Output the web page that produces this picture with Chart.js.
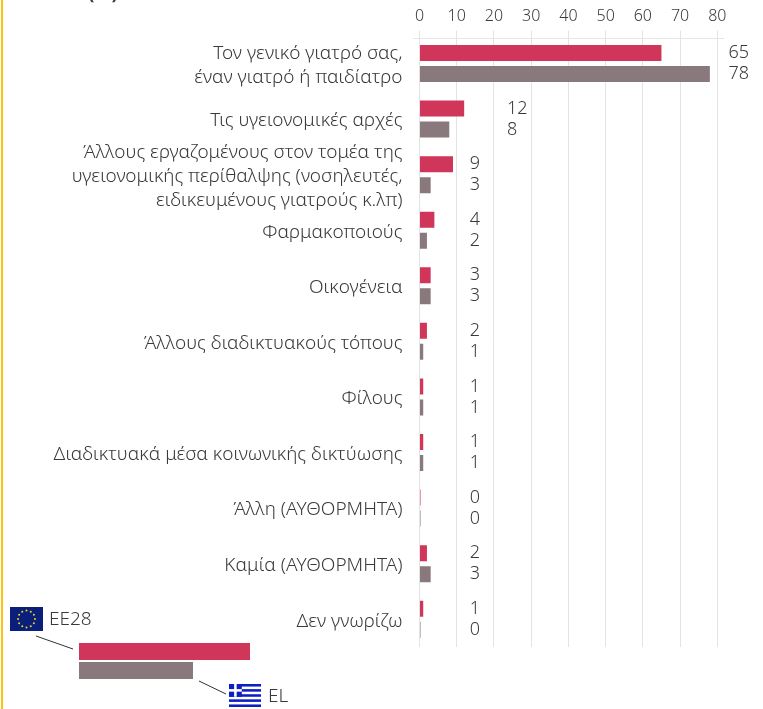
<!DOCTYPE html>
<html>
<head>
<meta charset="utf-8">
<script src="https://cdn.jsdelivr.net/npm/chart.js@4"></script>
<style>
    html, body { margin: 0; padding: 0; background: #fff; overflow: hidden; }
    canvas { display: block; }
</style>
</head>
<body>
<canvas id="chart" width="763" height="709"></canvas>
<script>
const categories = [
    ['Τον γενικό γιατρό σας,', 'έναν γιατρό ή παιδίατρο'],
    'Τις υγειονομικές αρχές',
    ['Άλλους εργαζομένους στον τομέα της', 'υγειονομικής περίθαλψης (νοσηλευτές,', 'ειδικευμένους γιατρούς κ.λπ)'],
    'Φαρμακοποιούς',
    'Οικογένεια',
    'Άλλους διαδικτυακούς τόπους',
    'Φίλους',
    'Διαδικτυακά μέσα κοινωνικής δικτύωσης',
    'Άλλη (ΑΥΘΟΡΜΗΤΑ)',
    'Καμία (ΑΥΘΟΡΜΗΤΑ)',
    'Δεν γνωρίζω'
];
const valuesEU = [65, 12, 9, 4, 3, 2, 1, 1, 0, 2, 1];
const valuesEL = [78, 8, 3, 2, 3, 1, 1, 1, 0, 3, 0];
const xTicks = [0, 10, 20, 30, 40, 50, 60, 70, 80];

const RED = '#cf3659';
const GREY = '#8a797c';
const TEXT = '#3a3a3a';
const FONT = '"Noto Sans", sans-serif';

// value labels sit in three columns depending on the size of the row
function labelColumn(max) {
    if (max >= 50) return 83;
    if (max >= 10) return 23.5;
    return 13.5;
}

const valueLabels = {
    id: 'valueLabels',
    afterDatasetsDraw(chart) {
        const ctx = chart.ctx;
        ctx.save();
        ctx.font = '300 18px ' + FONT;
        ctx.fillStyle = TEXT;
        ctx.textBaseline = 'middle';
        ctx.textAlign = 'left';
        chart.data.datasets.forEach((ds, d) => {
            chart.getDatasetMeta(d).data.forEach((bar, i) => {
                const col = labelColumn(Math.max(valuesEU[i], valuesEL[i]));
                ctx.fillText(ds.data[i], chart.scales.x.getPixelForValue(col), bar.y);
            });
        });
        ctx.restore();
    }
};

function drawEUFlag(ctx, x, y, w, h) {
    ctx.fillStyle = '#0a1f7a';
    ctx.fillRect(x, y, w, h);
    ctx.fillStyle = '#f2d21e';
    for (let i = 0; i < 12; i++) {
        const a = i * Math.PI / 6;
        ctx.beginPath();
        ctx.arc(x + w / 2 + Math.cos(a) * 8.5, y + h / 2 + Math.sin(a) * 8.5, 1, 0, Math.PI * 2);
        ctx.fill();
    }
}

function drawGreekFlag(ctx, x, y, w, h) {
    const stripe = h / 9;
    ctx.fillStyle = '#fff';
    ctx.fillRect(x, y, w, h);
    ctx.fillStyle = '#0d1fc4';
    for (let i = 0; i < 9; i += 2) ctx.fillRect(x, y + i * stripe, w, stripe);
    ctx.fillRect(x, y, stripe * 5, stripe * 5);
    ctx.fillStyle = '#fff';
    ctx.fillRect(x, y + stripe * 2, stripe * 5, stripe);
    ctx.fillRect(x + stripe * 2, y, stripe, stripe * 5);
}

const decorations = {
    id: 'decorations',
    beforeDraw(chart) {
        const ctx = chart.ctx;
        ctx.save();
        ctx.fillStyle = '#fff';
        ctx.fillRect(0, 0, 763, 709);
        // yellow page rule
        ctx.fillStyle = '#ffc20e';
        ctx.fillRect(1, 0, 2, 709);
        ctx.restore();
    },
    afterDraw(chart) {
        const ctx = chart.ctx;
        ctx.save();
        // line under the ticks
        ctx.strokeStyle = '#e6e6e6';
        ctx.lineWidth = 1;
        ctx.beginPath();
        ctx.moveTo(413, 38.5);
        ctx.lineTo(724, 38.5);
        ctx.stroke();

        // title, cut by the top edge
        ctx.fillStyle = TEXT;
        ctx.font = 'bold 19px ' + FONT;
        ctx.textAlign = 'left';
        ctx.textBaseline = 'alphabetic';
        ctx.fillText('(%)', 88, -1);

        // legend
        drawEUFlag(ctx, 10, 607, 33, 24);
        drawGreekFlag(ctx, 229, 684, 32, 23);
        ctx.fillStyle = RED;
        ctx.fillRect(79, 643, 171, 17);
        ctx.fillStyle = GREY;
        ctx.fillRect(79, 662, 114, 17);
        ctx.strokeStyle = '#333';
        ctx.beginPath();
        ctx.moveTo(36, 636);
        ctx.lineTo(73, 649);
        ctx.moveTo(199, 681);
        ctx.lineTo(226, 694);
        ctx.stroke();
        ctx.fillStyle = TEXT;
        ctx.font = '300 19px ' + FONT;
        ctx.textBaseline = 'middle';
        ctx.fillText('EE28', 49, 620);
        ctx.fillText('EL', 268, 697);
        ctx.restore();
    }
};

new Chart(document.getElementById('chart'), {
    type: 'bar',
    data: {
        labels: categories,
        datasets: [
            { label: 'EE28', data: valuesEU, backgroundColor: RED, categoryPercentage: 0.756, barPercentage: 0.762, minBarLength: 1 },
            { label: 'EL', data: valuesEL, backgroundColor: GREY, categoryPercentage: 0.756, barPercentage: 0.762, minBarLength: 1 }
        ]
    },
    options: {
        indexAxis: 'y',
        responsive: false,
        animation: false,
        layout: { padding: { right: 45.7, bottom: 62 } },
        plugins: { legend: { display: false }, tooltip: { enabled: false } },
        scales: {
            x: {
                position: 'top',
                min: 0,
                max: 80,
                afterBuildTicks(axis) { axis.ticks = xTicks.map(v => ({ value: v })); },
                afterFit(axis) { axis.height = 35.7; },
                border: { display: false },
                grid: { color: '#e3e3e3', tickLength: 5, drawTicks: true },
                ticks: { color: TEXT, font: { family: FONT, size: 16, weight: '300' }, padding: 5, maxRotation: 0 }
            },
            y: {
                afterFit(axis) { axis.width = 419.5; },
                border: { display: false },
                grid: { display: false },
                ticks: { color: TEXT, font: { family: FONT, size: 19, weight: '300', lineHeight: 1.27 }, padding: 9, labelOffset: 2, autoSkip: false }
            }
        }
    },
    plugins: [decorations, valueLabels]
});
</script>
</body>
</html>
